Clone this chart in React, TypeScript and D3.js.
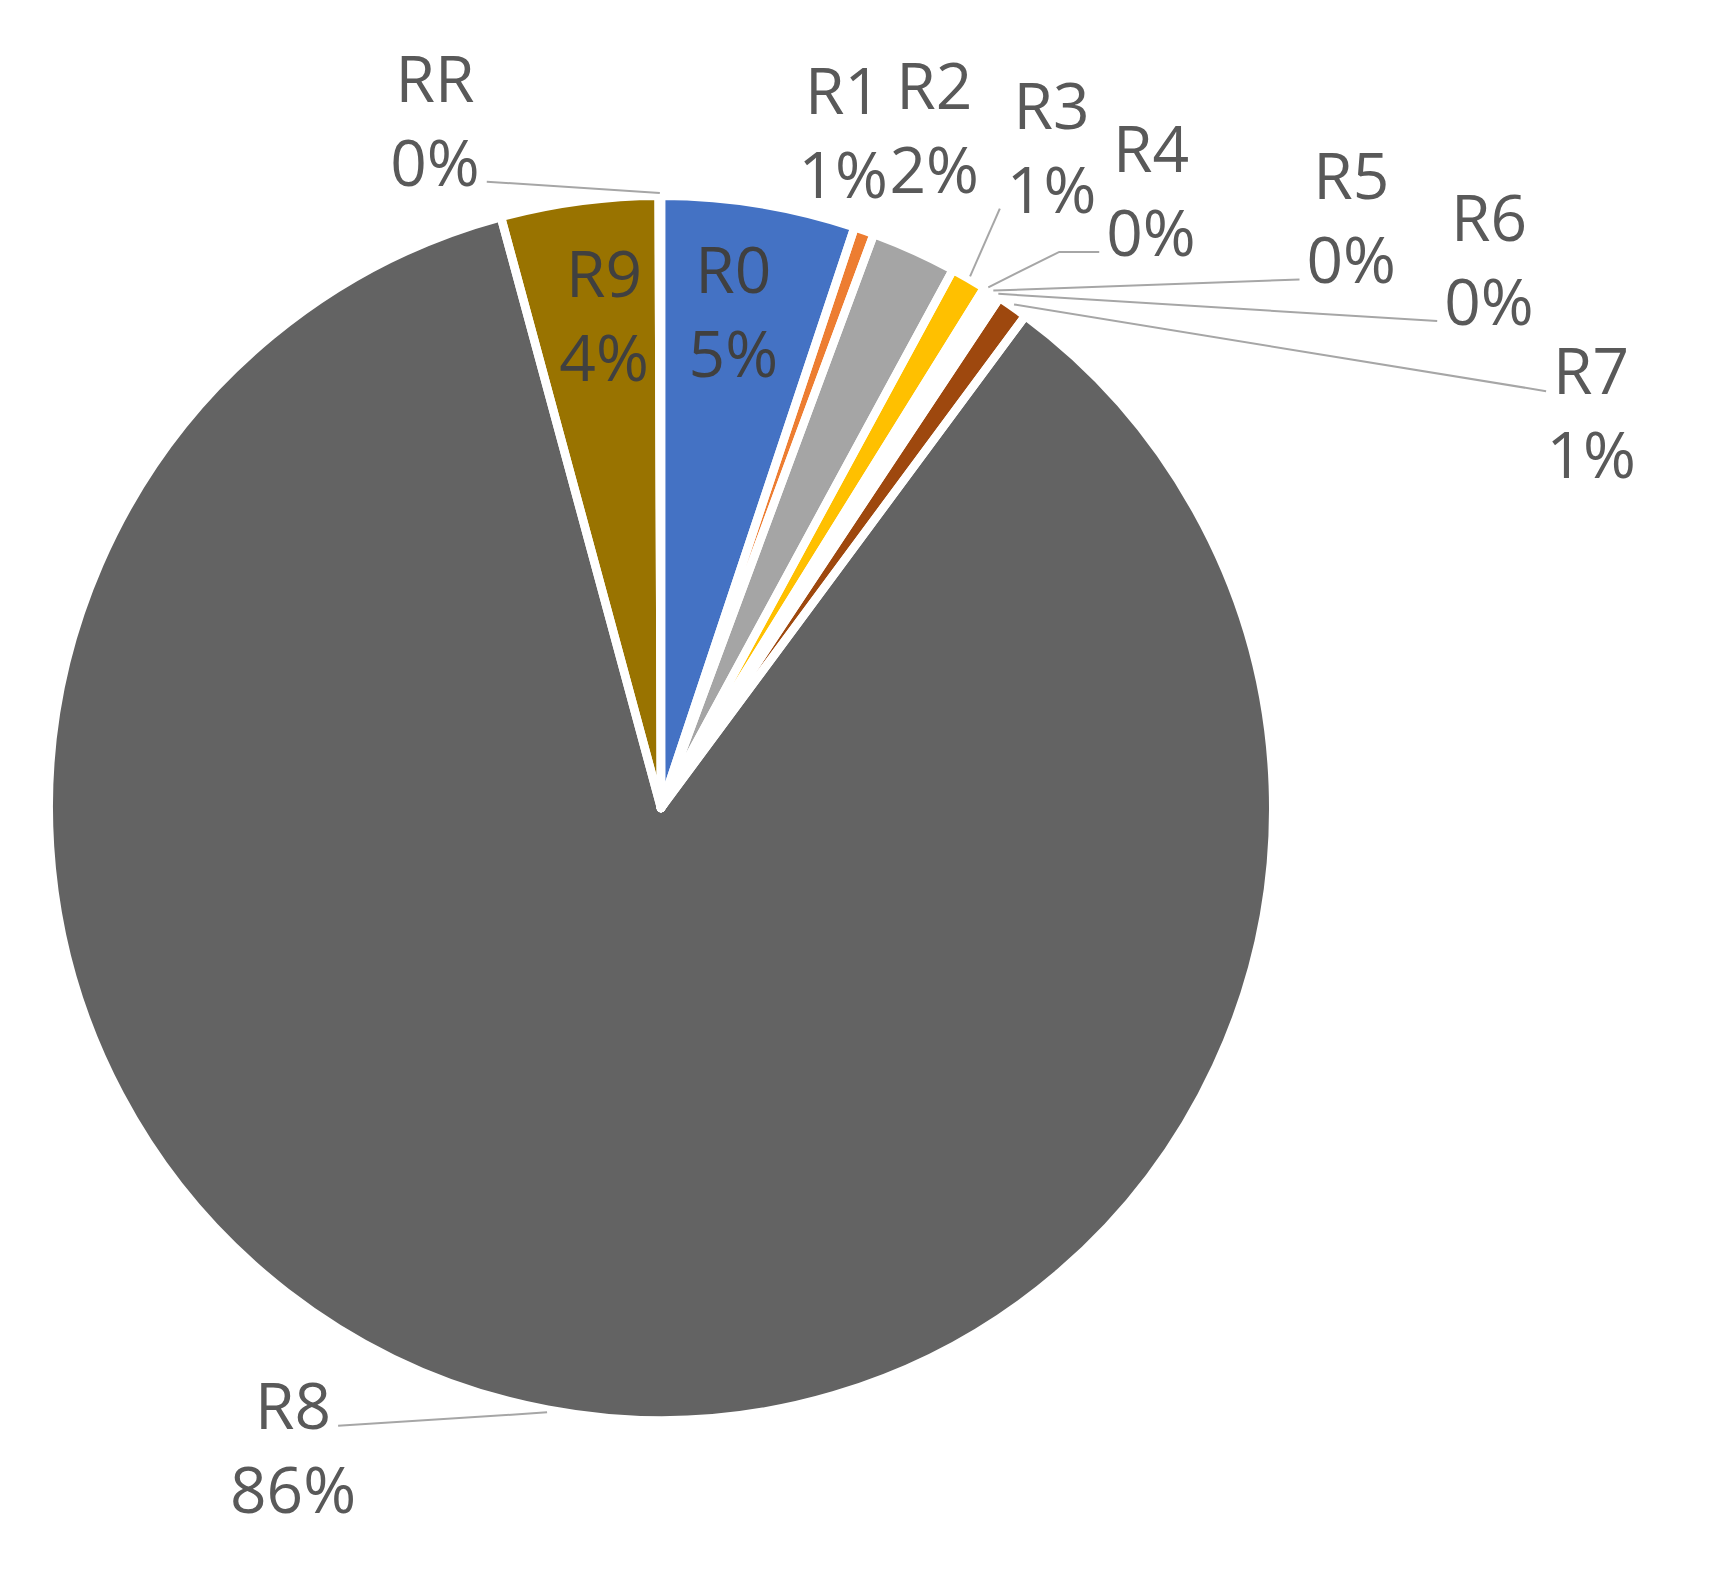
import { useEffect, useRef } from 'react';
import * as d3 from 'd3';

const NAMES = ['R0', 'R1', 'R2', 'R3', 'R4', 'R5', 'R6', 'R7', 'R8', 'R9', 'RR'];
const SHARES = [5.12, 0.53, 2.26, 0.94, 0.16, 0.15, 0.16, 0.82, 85.64, 4.15, 0.06];
const COLORS = ['#4472C4', '#ED7D31', '#A5A5A5', '#FFC000', '#5B9BD5', '#70AD47', '#264478', '#9E480E', '#636363', '#997300', '#255E91'];

// where each data label sits: angle clockwise from 12 o'clock (deg), distance in radii
const LABEL_ANGLE = [8.3, 15.1, 21.9, 30.6, 38.45, 49.5, 56.5, 67.0, 209.9, 353.4, 341.8];
const LABEL_DIST = [0.824, 1.15, 1.205, 1.262, 1.296, 1.493, 1.633, 1.662, 1.214, 0.815, 1.19];

export default function App() {
  const svgRef = useRef<SVGSVGElement | null>(null);

  useEffect(() => {
    document.body.style.margin = '0';
    if (!svgRef.current) return;
    const W = 1709;
    const H = 1573;
    const CX = 661;
    const CY = 808;
    const R = 608;
    const BORDER = 8.5;
    const FONT = 64;
    const LINE = 84;

    const svg = d3.select(svgRef.current);
    svg.selectAll('*').remove();
    svg.attr('width', W).attr('height', H).attr('viewBox', `0 0 ${W} ${H}`);

    const data = NAMES.map((name, i) => ({ name, value: SHARES[i], color: COLORS[i], i }));
    const total = d3.sum(SHARES);
    const pct = d3.format('.0%');

    const pie = d3.pie<any>().sort(null).value(d => d.value).startAngle(0).endAngle(2 * Math.PI);
    const arcs = pie(data);
    const arc = d3.arc<any>().innerRadius(0).outerRadius(R + BORDER / 2);

    const g = svg.append('g').attr('transform', `translate(${CX},${CY})`);

    // fills first, then white borders on top so every gap is the full width
    g.append('g').selectAll('path')
      .data(arcs)
      .join('path')
      .attr('d', arc)
      .attr('fill', d => d.data.color);

    g.append('g').selectAll('path')
      .data(arcs)
      .join('path')
      .attr('d', arc)
      .attr('fill', 'none')
      .attr('stroke', '#fff')
      .attr('stroke-width', BORDER)
      .attr('stroke-linejoin', 'round');

    const polar = (deg: number, r: number) => {
      const a = (deg * Math.PI) / 180;
      return [CX + r * Math.sin(a), CY - r * Math.cos(a)];
    };

    const leaders = svg.append('g').attr('fill', 'none');
    const labels = svg.append('g')
      .attr('font-family', '"Open Sans", Lato, sans-serif')
      .attr('font-size', FONT);

    arcs.forEach((a, i) => {
      const [lx, ly] = polar(LABEL_ANGLE[i], LABEL_DIST[i] * R);
      const inside = LABEL_DIST[i] < 1;
      const b1 = ly - 19;
      const t = labels.append('text')
        .attr('text-anchor', 'middle')
        .attr('fill', inside ? '#404040' : '#595959');
      const t1 = t.append('tspan').attr('x', lx).attr('y', b1).text(a.data.name);
      const t2 = t.append('tspan').attr('x', lx).attr('y', b1 + LINE).text(pct(a.data.value / total));
      if (inside) return;

      const mid = ((a.startAngle + a.endAngle) / 2) * 180 / Math.PI;
      const [px, py] = polar(mid, R + 7);
      const above = ly < py;
      const tw = ((above ? t2 : t1).node() as SVGTextContentElement).getComputedTextLength();
      const ay = above ? b1 + LINE - 4 : b1 - 3;
      const right = lx > px;
      const ax = right ? lx - tw / 2 - 7 : lx + tw / 2 + 7;
      const dx = ax - px;
      const dy = ay - py;
      // labels sitting close to their slice get no leader line
      if (Math.hypot(dx, dy) < 70) return;
      let pts: [number, number][] = [[px, py], [ax, ay]];
      if (Math.abs(dx) > 90 && Math.abs(dy) / Math.abs(dx) > 0.3) {
        pts = [[px, py], [ax + (right ? -40 : 40), ay], [ax, ay]];
      }
      leaders.append('path')
        .attr('d', d3.line()(pts))
        .attr('stroke', '#a6a6a6')
        .attr('stroke-width', 2);
    });
  }, []);

  return <svg ref={svgRef} style={{ display: 'block' }} />;
}
